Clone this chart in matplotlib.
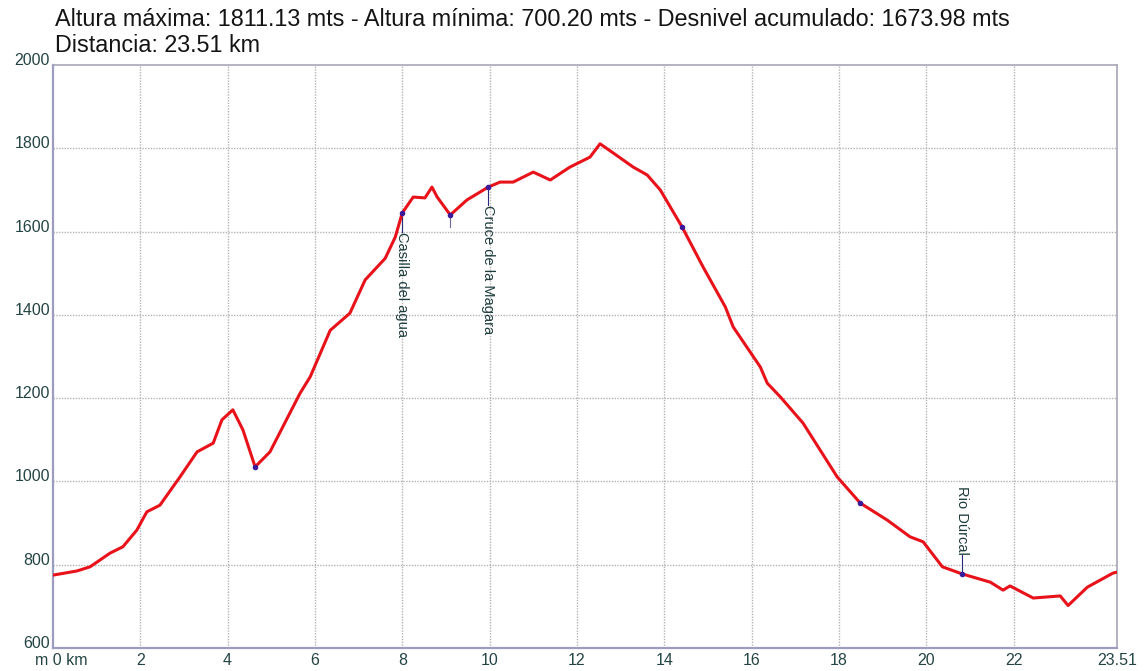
import numpy as np
import matplotlib.pyplot as plt

plt.rcParams['font.family'] = ['Liberation Sans', 'DejaVu Sans']

# profile (x in chart units, y in metres)
dist = [0.00, 0.55, 0.85, 1.31, 1.60, 1.92, 2.15, 2.45, 2.91, 3.30, 3.67, 3.87,
        4.12, 4.35, 4.63, 4.97, 5.66, 5.89, 6.35, 6.80, 7.15, 7.61, 7.84, 8.00,
        8.25, 8.52, 8.68, 8.80, 9.10, 9.48, 9.97, 10.24, 10.54, 11.00, 11.39,
        11.84, 12.30, 12.53, 12.83, 13.29, 13.61, 13.91, 14.41, 14.89, 15.40,
        15.58, 16.20, 16.36, 16.66, 17.18, 17.96, 18.49, 19.11, 19.63, 19.93,
        20.37, 20.82, 21.47, 21.76, 21.92, 22.45, 23.07, 23.25, 23.69, 24.28, 24.37]
elev = [775, 785, 795, 828, 843, 883, 927, 943, 1011, 1071, 1092, 1148,
        1172, 1124, 1035, 1071, 1212, 1251, 1363, 1404, 1484, 1536, 1587, 1645,
        1683, 1681, 1707, 1683, 1640, 1676, 1707, 1719, 1719, 1743, 1724,
        1755, 1779, 1811, 1789, 1755, 1736, 1700, 1611, 1515, 1419,
        1371, 1275, 1236, 1203, 1140, 1011, 948, 907, 867, 855,
        795, 778, 758, 739, 749, 720, 725, 702, 746, 780, 782]

# points marked on the track
mark_x = [4.63, 8.00, 9.10, 9.97, 14.41, 18.49, 20.82]
mark_y = [1035, 1645, 1640, 1707, 1611, 948, 778]

# named waypoints
wp_names = ['Casilla del agua', 'Cruce de la Magara', 'Rio Dúrcal']
wp_x = [8.00, 9.97, 20.82]
wp_y = [1645, 1707, 778]
wp_label_y = [1600, 1665, 823]

x_ticks = [0, 2, 4, 6, 8, 10, 12, 14, 16, 18, 20, 22]
x_end = 24.37
x_end_label = '23.51'
y_ticks = [600, 800, 1000, 1200, 1400, 1600, 1800, 2000]

title1 = 'Altura máxima: 1811.13 mts - Altura mínima: 700.20 mts - Desnivel acumulado: 1673.98 mts'
title2 = 'Distancia: 23.51 km'

fig = plt.figure(figsize=(11.44, 6.71), dpi=100)
ax = fig.add_axes([0.0463, 0.0343, 0.9301, 0.8687])
ax.set_xlim(0, x_end)
ax.set_ylim(600, 2000)

for x in x_ticks[1:]:
    ax.axvline(x, color='#b4b4b4', lw=1, ls=(0, (1, 1)), zorder=1)
for y in y_ticks[1:-1]:
    ax.axhline(y, color='#b4b4b4', lw=1, ls=(0, (1, 1)), zorder=1)

ax.plot(dist, elev, color='#e8121a', lw=2.2, zorder=3, solid_joinstyle='round')
ax.plot(mark_x, mark_y, 'o', color='#3a1a9a', ms=3, zorder=4)

# small tick under the dip
ax.plot([9.10, 9.10], [1640, 1612], color='#6a6aa0', lw=0.8, zorder=2)

for name, x, y, ly in zip(wp_names, wp_x, wp_y, wp_label_y):
    ax.plot([x, x], [y, ly], color='#2a2a7a', lw=0.8, zorder=2)
    va = 'top' if ly < y else 'bottom'
    ax.text(x, ly, name, rotation=-90, ha='center', va=va,
            fontsize=10.5, color='#1e3c3c', zorder=5)

ax.set_xticks([])
ax.set_yticks([])
for s in ax.spines.values():
    s.set_color('#a6a6b8')
    s.set_linewidth(1.2)
ax.spines['left'].set_color('#9c9cc0')
ax.spines['bottom'].set_color('#9c9cc0')
ax.spines['left'].set_linewidth(1.6)
ax.spines['bottom'].set_linewidth(1.6)

lab_col = '#244444'
for y in y_ticks:
    ax.text(-0.07, y, str(y), ha='right', va='baseline', fontsize=11.5,
            color=lab_col, clip_on=False)
for x in x_ticks:
    lab = 'm 0 km' if x == 0 else str(x)
    xx = 0.2 if x == 0 else x
    ax.text(xx, 588, lab, ha='center', va='top', fontsize=11.5,
            color=lab_col, clip_on=False)
ax.text(x_end, 588, x_end_label, ha='center', va='top', fontsize=11.5,
        color=lab_col, clip_on=False)

fig.text(55 / 1144, 1 - 20 / 671, title1, ha='left', va='center',
         fontsize=16.8, color='#141414')
fig.text(55 / 1144, 1 - 46 / 671, title2, ha='left', va='center',
         fontsize=16.8, color='#141414')

fig.savefig('out.png', dpi=100, facecolor='white')
